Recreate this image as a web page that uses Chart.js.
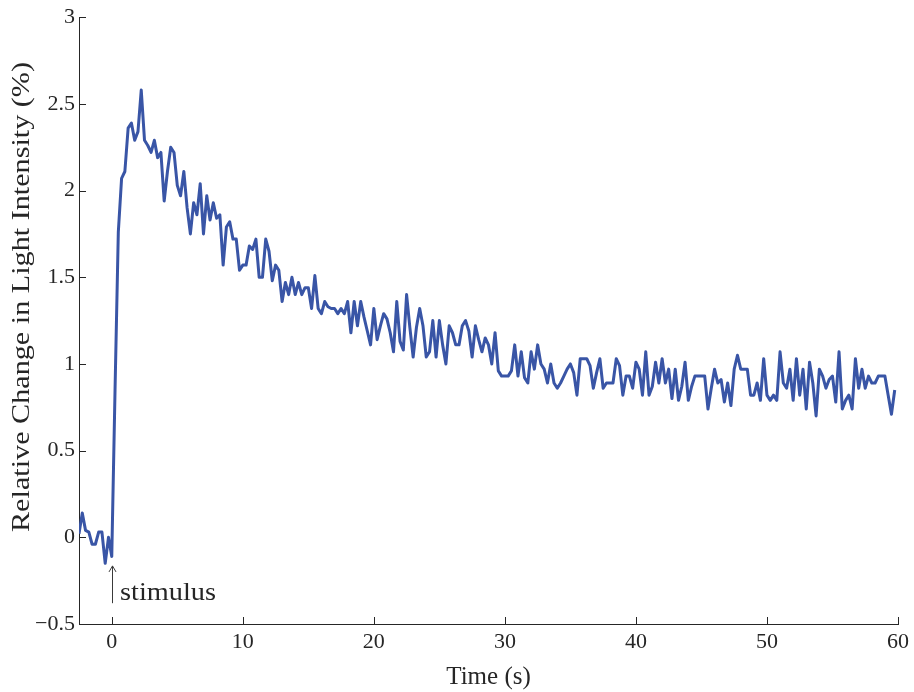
<!DOCTYPE html>
<html>
<head>
<meta charset="utf-8">
<script src="https://cdn.jsdelivr.net/npm/chart.js@4.4.1/dist/chart.umd.min.js"></script>
<style>
html,body{margin:0;padding:0;background:#ffffff;}
#wrap{width:914px;height:692px;position:relative;}
</style>
</head>
<body>
<div id="wrap"><canvas id="c" width="914" height="692"></canvas></div>
<script>
// ---------- data ----------
const timeSeconds = [
  -2.5,-2.25,-2,-1.75,-1.5,-1.25,-1,-0.75,-0.5,-0.25,
  0,0.25,0.5,0.75, 1,1.25,1.5,1.75, 2,2.25,2.5,2.75, 3,3.25,3.5,3.75,
  4,4.25,4.5,4.75, 5,5.25,5.5,5.75, 6,6.25,6.5,6.75, 7,7.25,7.5,7.75,
  8,8.25,8.5,8.75, 9,9.25,9.5,9.75, 10,10.25,10.5,10.75, 11,11.25,11.5,11.75,
  12,12.25,12.5,12.75, 13,13.25,13.5,13.75, 14,14.25,14.5,14.75, 15,15.25,15.5,15.75,
  16,16.25,16.5,16.75, 17,17.25,17.5,17.75, 18,18.25,18.5,18.75, 19,19.25,19.5,19.75,
  20,20.25,20.5,20.75, 21,21.25,21.5,21.75, 22,22.25,22.5,22.75, 23,23.25,23.5,23.75,
  24,24.25,24.5,24.75, 25,25.25,25.5,25.75, 26,26.25,26.5,26.75, 27,27.25,27.5,27.75,
  28,28.25,28.5,28.75, 29,29.25,29.5,29.75, 30,30.25,30.5,30.75, 31,31.25,31.5,31.75,
  32,32.25,32.5,32.75, 33,33.25,33.5,33.75, 34,34.25,34.5,34.75, 35,35.25,35.5,35.75,
  36,36.25,36.5,36.75, 37,37.25,37.5,37.75, 38,38.25,38.5,38.75, 39,39.25,39.5,39.75,
  40,40.25,40.5,40.75, 41,41.25,41.5,41.75, 42,42.25,42.5,42.75, 43,43.25,43.5,43.75,
  44,44.25,44.5,44.75, 45,45.25,45.5,45.75, 46,46.25,46.5,46.75, 47,47.25,47.5,47.75,
  48,48.25,48.5,48.75, 49,49.25,49.5,49.75, 50,50.25,50.5,50.75, 51,51.25,51.5,51.75,
  52,52.25,52.5,52.75, 53,53.25,53.5,53.75, 54,54.25,54.5,54.75, 55,55.25,55.5,55.75,
  56,56.25,56.5,56.75, 57,57.25,57.5,57.75, 58,58.25,58.5,58.75, 59,59.25,59.5,59.75
];
const relativeChange = [
  0.02,0.14,0.04,0.03,-0.04,-0.04,0.03,0.03,-0.15,0.00,
  -0.11,0.85,1.76,2.07, 2.11,2.36,2.39,2.29, 2.34,2.58,2.29,2.26, 2.22,2.29,2.19,2.22,
  1.94,2.11,2.25,2.22, 2.03,1.97,2.11,1.90, 1.75,1.93,1.86,2.04, 1.75,1.97,1.83,1.93,
  1.84,1.86,1.57,1.79, 1.82,1.72,1.72,1.54, 1.57,1.57,1.68,1.66, 1.72,1.50,1.50,1.72,
  1.65,1.48,1.57,1.54, 1.36,1.47,1.40,1.50, 1.40,1.47,1.40,1.44, 1.44,1.32,1.51,1.32,
  1.29,1.36,1.33,1.32, 1.32,1.29,1.32,1.29, 1.36,1.18,1.36,1.22, 1.36,1.27,1.19,1.11,
  1.32,1.14,1.22,1.29, 1.26,1.18,1.07,1.36, 1.13,1.08,1.40,1.21, 1.04,1.21,1.32,1.22,
  1.04,1.07,1.25,1.04, 1.25,1.11,1.00,1.22, 1.18,1.11,1.11,1.22, 1.25,1.19,1.04,1.22,
  1.14,1.07,1.15,1.11, 1.00,1.18,0.96,0.93, 0.93,0.93,0.96,1.11, 0.93,1.07,0.92,0.89,
  1.07,0.97,1.11,1.00, 0.97,0.89,1.00,0.89, 0.86,0.89,0.93,0.97, 1.00,0.95,0.82,1.03,
  1.03,1.03,0.99,0.86, 0.95,1.03,0.86,0.89, 0.89,0.89,1.03,0.99, 0.82,0.93,0.93,0.86,
  1.01,0.97,0.82,1.07, 0.82,0.87,1.01,0.89, 1.03,0.89,0.97,0.80, 0.97,0.79,0.87,1.01,
  0.79,0.87,0.93,0.93, 0.93,0.93,0.74,0.86, 0.97,0.89,0.91,0.78, 0.89,0.76,0.97,1.05,
  0.97,0.97,0.97,0.82, 0.82,0.89,0.79,1.03, 0.82,0.79,0.82,0.79, 1.07,0.89,0.86,0.97,
  0.79,1.03,0.82,0.97, 0.74,1.01,0.89,0.70, 0.97,0.93,0.86,0.91, 0.93,0.78,1.07,0.74,
  0.79,0.82,0.74,1.03, 0.86,0.97,0.86,0.93, 0.89,0.89,0.93,0.93, 0.93,0.82,0.71,0.85
];
const xTicks = [0, 10, 20, 30, 40, 50, 60];
const yTicks = [-0.5, 0, 0.5, 1, 1.5, 2, 2.5, 3];
const xAxisTitle = 'Time (s)';
const yAxisTitle = 'Relative Change in Light Intensity (%)';
const stimulusLabel = 'stimulus';
const stimulusTime = 0;

// ---------- style ----------
const FONT = '"Liberation Serif", "Times New Roman", serif';
const TEXT = '#262626';
const AXIS = '#262626';
const LINE = '#3955a6';

function fmt(v){
  const s = String(v);
  return v < 0 ? '\u2212' + s.slice(1) : s;
}

// draw text stretched along its direction to a target width (mimics a wider book face)
function wideText(ctx, text, targetW){
  const w = ctx.measureText(text).width;
  const k = targetW / w;
  ctx.save();
  ctx.scale(k, 1);
  ctx.fillText(text, 0, 0);
  ctx.restore();
}

const data = timeSeconds.map((t, i) => ({x: t, y: relativeChange[i]}));

const decor = {
  id: 'decor',
  afterDraw(chart){
    const {ctx, chartArea: a, scales: {x, y}} = chart;
    ctx.save();
    // inward tick marks
    ctx.strokeStyle = AXIS;
    ctx.lineWidth = 1;
    ctx.beginPath();
    yTicks.forEach(v => {
      const py = Math.round(y.getPixelForValue(v)) + 0.5;
      ctx.moveTo(a.left, py); ctx.lineTo(a.left + 7, py);
    });
    xTicks.forEach(v => {
      const px = Math.round(x.getPixelForValue(v)) + 0.5;
      ctx.moveTo(px, a.bottom); ctx.lineTo(px, a.bottom - 7);
    });
    ctx.stroke();

    // y-axis title
    ctx.fillStyle = TEXT;
    ctx.font = '25px ' + FONT;
    ctx.textAlign = 'center';
    ctx.textBaseline = 'middle';
    ctx.save();
    ctx.translate(22, 297);
    ctx.rotate(-Math.PI / 2);
    wideText(ctx, yAxisTitle, 470);
    ctx.restore();

    // stimulus arrow
    const sx = Math.round(x.getPixelForValue(stimulusTime)) + 0.5;
    const yTop = y.getPixelForValue(-0.165);
    const yBot = y.getPixelForValue(-0.38);
    ctx.strokeStyle = '#3a3a3a';
    ctx.lineWidth = 1;
    ctx.beginPath();
    ctx.moveTo(sx, yBot); ctx.lineTo(sx, yTop);
    ctx.moveTo(sx - 3.5, yTop + 6); ctx.lineTo(sx, yTop); ctx.lineTo(sx + 3.5, yTop + 6);
    ctx.stroke();
    ctx.fillStyle = TEXT;
    ctx.font = '25px ' + FONT;
    ctx.textAlign = 'left';
    ctx.textBaseline = 'alphabetic';
    ctx.save();
    ctx.translate(sx + 7.5, y.getPixelForValue(-0.36));
    wideText(ctx, stimulusLabel, 96);
    ctx.restore();
    ctx.restore();
  }
};

new Chart(document.getElementById('c'), {
  type: 'line',
  data: {
    datasets: [{
      data: data,
      borderColor: LINE,
      borderWidth: 3,
      pointRadius: 0,
      tension: 0,
      fill: false,
      borderJoinStyle: 'round'
    }]
  },
  options: {
    responsive: false,
    animation: false,
    devicePixelRatio: 1,
    layout: {padding: {top: 14, right: 15, left: 0, bottom: 0}},
    plugins: {legend: {display: false}, tooltip: {enabled: false}},
    scales: {
      x: {
        type: 'linear',
        min: -2.5, max: 60,
        afterBuildTicks(s){ s.ticks = xTicks.map(v => ({value: v})); },
        afterFit(s){ s.height = 68; },
        grid: {display: false, drawTicks: false},
        border: {display: true, color: AXIS, width: 1},
        ticks: {
          autoSkip: false, maxRotation: 0, padding: 5,
          color: TEXT, font: {family: FONT, size: 22},
          callback: v => fmt(v)
        },
        title: {display: true, text: xAxisTitle, color: TEXT,
          font: {family: FONT, size: 25}, padding: {top: 0, bottom: 0}}
      },
      y: {
        type: 'linear',
        min: -0.5, max: 3,
        afterBuildTicks(s){ s.ticks = yTicks.map(v => ({value: v})); },
        afterFit(s){ s.width = 79; },
        grid: {display: false, drawTicks: false},
        border: {display: true, color: AXIS, width: 1},
        ticks: {
          autoSkip: false, padding: 4,
          color: TEXT, font: {family: FONT, size: 22},
          callback: v => fmt(v)
        },
        title: {display: false}
      }
    }
  },
  plugins: [decor]
});
</script>
</body>
</html>
